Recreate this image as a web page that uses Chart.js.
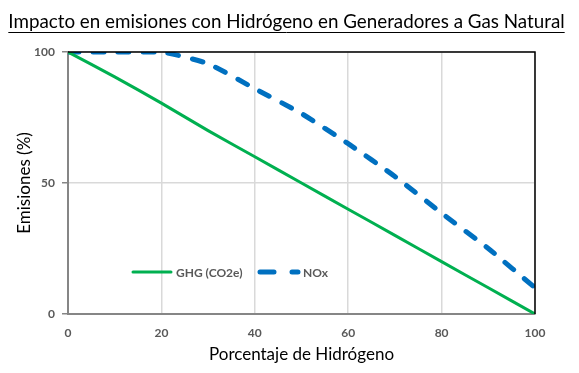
<!DOCTYPE html>
<html>
<head>
<meta charset="utf-8">
<script src="https://cdn.jsdelivr.net/npm/chart.js@4"></script>
<style>
  html, body { margin: 0; padding: 0; background: #fff; }
  #wrap { width: 579px; height: 373px; }
</style>
</head>
<body>
<div id="wrap"><canvas id="emisiones-graph" width="579" height="373"></canvas></div>
<script>
const hidrogeno = [0, 10, 20, 30, 40, 50, 60, 70, 80, 90, 100];
const ghg = [100, 90.5, 80.5, 70, 60, 50, 40, 30, 20, 10, 0];
const nox = [100, 100, 100, 95.5, 86, 76.5, 65, 52.5, 38.5, 25, 10];
const xTicks = [0, 20, 40, 60, 80, 100];
const yTicks = [0, 50, 100];
const chartTitle = "Impacto en emisiones con Hidrógeno en Generadores a Gas Natural";

const FONT = "Lato, 'Open Sans', sans-serif";
const ctx = document.getElementById("emisiones-graph").getContext("2d");

// title with underline, plot frame, legend inside the plot
const extras = {
  id: "extras",
  afterDraw(chart) {
    const c = chart.ctx;
    const a = chart.chartArea;
    c.save();
    c.strokeStyle = "#000";
    c.lineWidth = 1.5;
    c.beginPath();
    c.moveTo(a.left, a.top);
    c.lineTo(a.right, a.top);
    c.lineTo(a.right, a.bottom);
    c.stroke();

    // title
    c.font = "18.8px " + FONT;
    c.fillStyle = "#000";
    c.textAlign = "center";
    c.textBaseline = "alphabetic";
    const cx = 286.5;
    c.fillText(chartTitle, cx, 28);
    const w = c.measureText(chartTitle).width;
    c.lineWidth = 1;
    c.beginPath();
    c.moveTo(cx - w / 2, 32.5);
    c.lineTo(cx + w / 2, 32.5);
    c.stroke();

    // legend
    const ly = a.bottom - 42;
    const lx = a.left + 65;
    c.textAlign = "left";
    c.lineCap = "round";
    c.strokeStyle = "#00b050";
    c.lineWidth = 3;
    c.beginPath();
    c.moveTo(lx, ly);
    c.lineTo(lx + 38, ly);
    c.stroke();
    c.fillStyle = "#595959";
    c.font = "bold 12px " + FONT;
    c.textBaseline = "middle";
    c.fillText(chart.data.datasets[0].label, lx + 43, ly + 1);

    const bx = lx + 127;
    c.strokeStyle = "#0070c0";
    c.lineWidth = 5;
    c.beginPath();
    c.moveTo(bx, ly);
    c.lineTo(bx + 14, ly);
    c.moveTo(bx + 32, ly);
    c.lineTo(bx + 38, ly);
    c.stroke();
    c.fillText(chart.data.datasets[1].label, bx + 43, ly + 1);
    c.restore();
  },
};

const emisionesGraph = new Chart(ctx, {
  type: "line",
  data: {
    labels: hidrogeno,
    datasets: [
      {
        label: "GHG (CO2e)",
        data: hidrogeno.map((x, i) => ({ x: x, y: ghg[i] })),
        borderColor: "#00b050",
        borderWidth: 3,
        pointRadius: 0,
        tension: 0.2,
      },
      {
        label: "NOx",
        data: hidrogeno.map((x, i) => ({ x: x, y: nox[i] })),
        borderColor: "#0070c0",
        borderWidth: 5,
        borderDash: [11, 14],
        borderCapStyle: "round",
        pointRadius: 0,
        tension: 0.2,
      },
    ],
  },
  options: {
    responsive: false,
    animation: false,
    layout: { padding: { left: 14, right: 44, top: 52, bottom: 8 } },
    plugins: {
      legend: { display: false },
      tooltip: { enabled: false },
      title: { display: false },
    },
    scales: {
      x: {
        type: "linear",
        min: 0,
        max: 100,
        afterBuildTicks: (s) => { s.ticks = xTicks.map((v) => ({ value: v })); },
        afterFit: (s) => { s.height = 51; },
        grid: { color: "#d9d9d9", lineWidth: 1.5, drawTicks: false },
        border: { color: "#868686", width: 2 },
        ticks: { color: "#595959", padding: 12, font: { family: FONT, size: 12, weight: "bold" } },
        title: {
          display: true,
          text: "Porcentaje de Hidrógeno",
          color: "#000",
          font: { family: FONT, size: 17 },
          padding: { top: 0, bottom: 0 },
        },
      },
      y: {
        min: 0,
        max: 100,
        afterBuildTicks: (s) => { s.ticks = yTicks.map((v) => ({ value: v })); },
        afterFit: (s) => { s.width = 54; },
        grid: { color: "#d9d9d9", lineWidth: 1.5, tickLength: 6, tickColor: "#868686" },
        border: { color: "#868686", width: 2 },
        ticks: { color: "#595959", padding: 7, font: { family: FONT, size: 12, weight: "bold" } },
        title: {
          display: true,
          text: "Emisiones (%)",
          color: "#000",
          font: { family: FONT, size: 17 },
          padding: { top: 0, bottom: 0 },
        },
      },
    },
  },
  plugins: [extras],
});
</script>
</body>
</html>
